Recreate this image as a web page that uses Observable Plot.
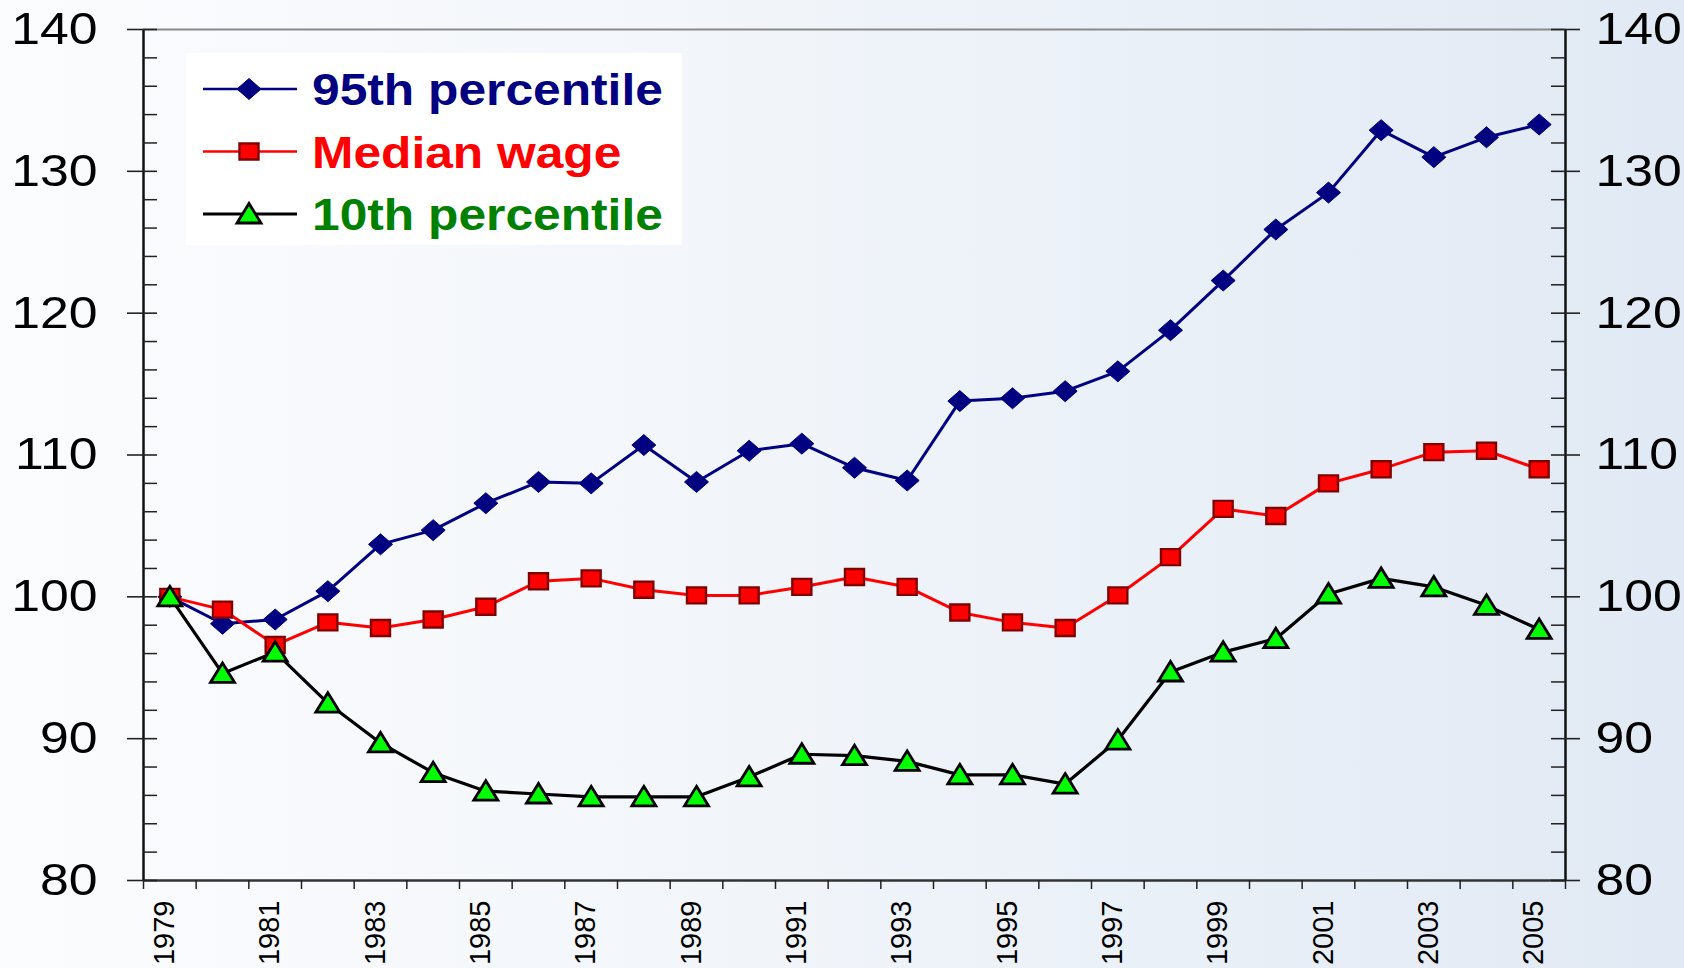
<!DOCTYPE html>
<html>
<head>
<meta charset="utf-8">
<script src="https://cdn.jsdelivr.net/npm/d3@7"></script>
<script src="https://cdn.jsdelivr.net/npm/@observablehq/plot@0.6"></script>
<style>
  html, body { margin: 0; padding: 0; }
  body {
    width: 1684px; height: 968px; overflow: hidden;
    background: linear-gradient(to right, #fbfcfe 0%, #f4f7fb 35%, #ebf1f8 65%, #e1e9f4 100%);
    font-family: "Liberation Sans", Arial, sans-serif;
  }
  #chart { position: relative; width: 1684px; height: 968px; }
  #chart svg.plot-main { position: absolute; left: 0; top: 0; }
  #legend { position: absolute; left: 186px; top: 53px; width: 496px; height: 192px; background: #ffffff; }
</style>
</head>
<body>
<div id="chart"></div>
<script>
// ---- Data (index 1979 = 100) ----
const years = [1979,1980,1981,1982,1983,1984,1985,1986,1987,1988,1989,1990,1991,1992,1993,1994,1995,1996,1997,1998,1999,2000,2001,2002,2003,2004,2005];
const p95 = [100,98.1,98.4,100.4,103.7,104.7,106.6,108.1,108.0,110.7,108.1,110.3,110.8,109.1,108.2,113.8,114.0,114.5,115.9,118.8,122.3,125.9,128.5,132.9,131.0,132.4,133.3];
const median = [100,99.1,96.6,98.2,97.8,98.4,99.3,101.1,101.3,100.5,100.1,100.1,100.7,101.4,100.7,98.9,98.2,97.8,100.1,102.8,106.2,105.7,108.0,109.0,110.2,110.3,109.0];
const p10 = [100,94.6,96.1,92.5,89.7,87.6,86.3,86.1,85.9,85.9,85.9,87.3,88.9,88.8,88.4,87.45,87.45,86.8,89.9,94.7,96.1,97.05,100.2,101.3,100.7,99.4,97.7];
const seriesNames = ["95th percentile", "Median wage", "10th percentile"];
const yTicks = [80, 90, 100, 110, 120, 130, 140];
const yMinorTicks = [82,84,86,88,92,94,96,98,102,104,106,108,112,114,116,118,122,124,126,128,132,134,136,138];
const xLabelYears = [1979,1981,1983,1985,1987,1989,1991,1993,1995,1997,1999,2001,2003,2005];

// ---- Build table ----
const rows = years.map((year, i) => ({year, p95: p95[i], median: median[i], p10: p10[i]}));
const xMin = years[0] - 0.5, xMax = years[years.length - 1] + 0.5;
const xBounds = d3.range(years.length + 1).map(i => xMin + i);
const yMin = yTicks[0], yMax = yTicks[yTicks.length - 1];

// ---- Marker shapes (slightly wide, as in the reference) ----
const diamondSym = {draw(c) { c.moveTo(0, -10.5); c.lineTo(12, 0); c.lineTo(0, 10.5); c.lineTo(-12, 0); c.closePath(); }};
const squareSym = {draw(c) { c.moveTo(-9.5, -8); c.lineTo(9.5, -8); c.lineTo(9.5, 8); c.lineTo(-9.5, 8); c.closePath(); }};
const triangleSym = {draw(c) { c.moveTo(0, -10.5); c.lineTo(12, 9); c.lineTo(-12, 9); c.closePath(); }};

const series = [
  {key: "p95", name: seriesNames[0], line: "#000080", width: 3, sym: diamondSym, fill: "#000080", stroke: "#000080", sw: 1, text: "#000080"},
  {key: "median", name: seriesNames[1], line: "#ff0000", width: 3, sym: squareSym, fill: "#ff0000", stroke: "#800000", sw: 2.4, text: "#ff0000"},
  {key: "p10", name: seriesNames[2], line: "#000000", width: 3.2, sym: triangleSym, fill: "#00ff00", stroke: "#000000", sw: 2.8, text: "#008000"}
];

const seriesMarks = series.flatMap(s => [
  Plot.line(rows, {x: "year", y: s.key, stroke: s.line, strokeWidth: s.width}),
  Plot.dot(rows, {x: "year", y: s.key, symbol: s.sym, fill: s.fill, stroke: s.stroke, strokeWidth: s.sw})
]);

const FONT = "'Liberation Sans', Arial, Helvetica, sans-serif";
const svg = Plot.plot({
  width: 1684,
  height: 968,
  marginLeft: 143,
  marginRight: 119,
  marginTop: 29,
  marginBottom: 88,
  style: {background: "transparent", fontFamily: FONT, overflow: "visible"},
  x: {type: "linear", domain: [xMin, xMax], axis: null},
  y: {type: "linear", domain: [yMin, yMax], axis: null},
  marks: [
    // top frame line and bottom axis
    Plot.ruleY([yMax], {stroke: "#8a8a8a", strokeWidth: 2.2}),
    Plot.ruleY([yMin], {stroke: "#333333", strokeWidth: 2.5}),
    Plot.ruleX(xBounds, {x: d => d, y1: yMin, y2: yMin, insetBottom: -9, stroke: "#222", strokeWidth: 1.5}),
    // left & right axes
    Plot.ruleX([xMin, xMax], {stroke: "#111111", strokeWidth: 2.5}),
    // left ticks (major cross the axis, minor inside)
    Plot.ruleY(yTicks, {y: d => d, x1: xMin, x2: xMin, insetLeft: -16, insetRight: -14, stroke: "#222", strokeWidth: 1.6}),
    Plot.ruleY(yMinorTicks, {y: d => d, x1: xMin, x2: xMin, insetLeft: 0, insetRight: -14, stroke: "#222", strokeWidth: 1.5}),
    // right ticks
    Plot.ruleY(yTicks, {y: d => d, x1: xMax, x2: xMax, insetLeft: -14, insetRight: -15, stroke: "#222", strokeWidth: 1.6}),
    Plot.ruleY(yMinorTicks, {y: d => d, x1: xMax, x2: xMax, insetLeft: -14, insetRight: 0, stroke: "#222", strokeWidth: 1.5}),
    // tick labels
    Plot.text(yTicks, {y: d => d, text: d => String(d), frameAnchor: "left", textAnchor: "end", dx: -46, fontSize: 45, fontFamily: FONT, fill: "#000"}),
    Plot.text(yTicks, {y: d => d, text: d => String(d), frameAnchor: "right", textAnchor: "start", dx: 30, fontSize: 45, fontFamily: FONT, fill: "#000"}),
    Plot.text(xLabelYears, {x: d => d, text: d => String(d), frameAnchor: "bottom", rotate: -90, textAnchor: "end", dy: 20, dx: 4, fontSize: 29, fontFamily: FONT, fill: "#000"}),
    ...seriesMarks
  ]
});
svg.classList.add("plot-main");
// widen the y-axis labels horizontally, as in the reference
d3.select(svg).selectAll('g[font-size="45"] text').each(function() {
  const t = this.getAttribute("transform") || "";
  this.setAttribute("transform", t + " scale(1.15,1)");
});
document.getElementById("chart").appendChild(svg);

// ---- Legend (white box inside the plot area) ----
const legend = d3.select("#chart").append("div").attr("id", "legend");
const lsvg = legend.append("svg").attr("width", 496).attr("height", 192)
  .style("font-family", FONT);
series.forEach((s, i) => {
  const cy = 36 + i * 62.5;
  const g = lsvg.append("g");
  g.append("line").attr("x1", 17).attr("x2", 111).attr("y1", cy).attr("y2", cy)
    .attr("stroke", s.line).attr("stroke-width", s.width - 0.3);
  g.append("path").attr("d", d3.symbol(s.sym)()).attr("transform", `translate(63,${cy})`)
    .attr("fill", s.fill).attr("stroke", s.stroke).attr("stroke-width", s.sw);
  g.append("text").attr("transform", `translate(126,${cy + 16}) scale(1.105,1)`)
    .attr("font-size", 45).attr("font-weight", "bold").attr("fill", s.text).text(s.name);
});
</script>
</body>
</html>
